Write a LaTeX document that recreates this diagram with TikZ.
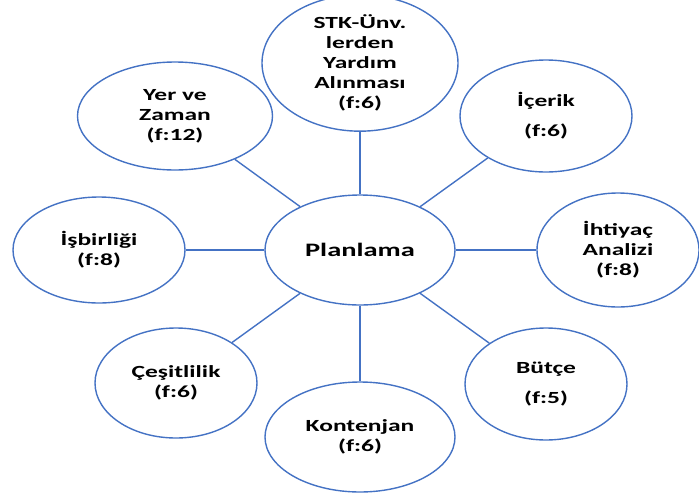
\documentclass[tikz,border=0pt]{standalone}
\usepackage{fontspec}
\usetikzlibrary{shapes.geometric}
\newfontfamily\nodefont{Carlito}[FakeStretch=1.5]
\definecolor{edgeblue}{HTML}{4472C4}
\tikzset{
  bub/.style={ellipse, draw=edgeblue, line width=1.4pt, fill=white, inner sep=0pt,
    align=center, text=black, font=\nodefont\bfseries\fontsize{17}{20}\selectfont},
  link/.style={draw=edgeblue, line width=1.4pt}
}
\begin{document}
\begin{tikzpicture}[x=1pt,y=-1pt]
\useasboundingbox (0,0) rectangle (699,493);
\node[bub, minimum width=190pt, minimum height=110pt, font=\nodefont\bfseries\fontsize{19}{22}\selectfont] (plan) at (360,250) {Planlama};
\node[bub, minimum width=196pt, minimum height=104pt] (stk) at (360,63) {STK-Ünv.\\lerden\\Yardım\\Alınması\\(f:6)};
\node[bub, minimum width=195pt, minimum height=108pt] (yer) at (175,116) {Yer ve\\Zaman\\(f:12)};
\node[bub, minimum width=172pt, minimum height=112pt] (icerik) at (546,116) {İçerik\\[10pt](f:6)};
\node[bub, minimum width=172pt, minimum height=106pt] (isb) at (99,250) {İşbirliği\\(f:8)};
\node[bub, minimum width=162pt, minimum height=114pt] (iht) at (618,250) {İhtiyaç\\Analizi\\(f:8)};
\node[bub, minimum width=162pt, minimum height=110pt] (ces) at (176,383) {Çeşitlilik\\(f:6)};
\node[bub, minimum width=162pt, minimum height=112pt] (butce) at (546,384) {Bütçe\\[10pt](f:5)};
\node[bub, minimum width=190pt, minimum height=110pt] (kont) at (360,437) {Kontenjan\\(f:6)};
\begin{scope}[on background layer/.style={}]
\draw[link] (plan) -- (stk);
\draw[link] (plan) -- (yer);
\draw[link] (plan) -- (icerik);
\draw[link] (plan) -- (isb);
\draw[link] (plan) -- (iht);
\draw[link] (plan) -- (ces);
\draw[link] (plan) -- (butce);
\draw[link] (plan) -- (kont);
\end{scope}
\end{tikzpicture}
\end{document}
